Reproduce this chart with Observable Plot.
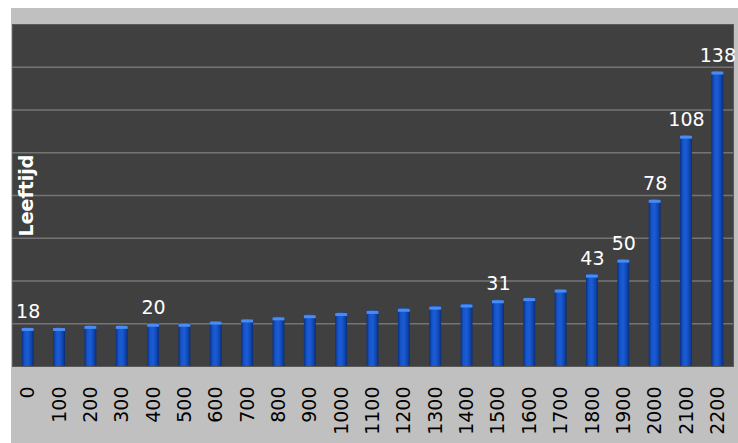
<!DOCTYPE html>
<html><head><meta charset="utf-8">
<script src="https://cdn.jsdelivr.net/npm/d3@7"></script>
<script src="https://cdn.jsdelivr.net/npm/@observablehq/plot@0.6"></script>
<style>
html,body{margin:0;padding:0;background:#fff;}
#panel{position:absolute;left:11px;top:8px;width:727px;height:435px;background:#c0c0c0;overflow:hidden;}
#panel svg{display:block;}
</style></head><body><div id="panel"></div>
<script>
const years = ["0","100","200","300","400","500","600","700","800","900","1000","1100","1200","1300","1400","1500","1600","1700","1800","1900","2000","2100","2200"];
const ages = [18,18,19,19,20,20,21,22,23,24,25,26,27,28,29,31,32,36,43,50,78,108,138];
const labeledYears = ["0","400","1500","1800","1900","2000","2100","2200"];
const gridValues = [20,40,60,80,100,120,140];
const yLabel = "Leeftijd";

const rows = years.map((y, i) => ({year: y, age: ages[i]}));

const defs = () => {
  const d = d3.create("svg:defs");
  const g = d.append("linearGradient").attr("id", "barGrad").attr("x1", "0").attr("x2", "1").attr("y1", "0").attr("y2", "0");
  g.append("stop").attr("offset", "0%").attr("stop-color", "#0b3080");
  g.append("stop").attr("offset", "25%").attr("stop-color", "#1656cc");
  g.append("stop").attr("offset", "50%").attr("stop-color", "#1a5cd6");
  g.append("stop").attr("offset", "80%").attr("stop-color", "#1046ad");
  g.append("stop").attr("offset", "100%").attr("stop-color", "#0a2c74");
  return d.node();
};

const chart = Plot.plot({
  width: 727, height: 435,
  marginLeft: 1, marginRight: 5, marginTop: 16, marginBottom: 77,
  style: {background: "transparent", fontFamily: "'DejaVu Sans', Verdana, sans-serif"},
  x: {domain: years, paddingInner: 0.62, paddingOuter: 0.31, round: false, label: null},
  y: {domain: [0, 160], axis: null},
  marks: [
    defs,
    Plot.frame({fill: "#404040", stroke: "#5a5a5a"}),
    Plot.ruleY(gridValues, {stroke: "#747474", strokeWidth: 1.5}),
    Plot.barY(rows, {x: "year", y: "age", fill: "url(#barGrad)"}),
    Plot.tickY(rows, {x: "year", y: "age", stroke: "#4a8cf0", strokeWidth: 3, dy: 1.5}),
    Plot.text(rows.filter(d => labeledYears.includes(d.year)), {
      x: "year", y: "age", text: d => String(d.age), fill: "white",
      fontSize: 19, lineAnchor: "bottom", dy: -10
    }),
    Plot.text([yLabel], {frameAnchor: "left", textAnchor: "middle", rotate: -90, dx: 14, fill: "white", fontWeight: "bold", fontSize: 19}),
    Plot.axisX({tickSize: 0, tickRotate: -90, tickPadding: 20, fontSize: 19, fill: "black", label: null})
  ]
});
document.getElementById("panel").appendChild(chart);
</script>
</body></html>
